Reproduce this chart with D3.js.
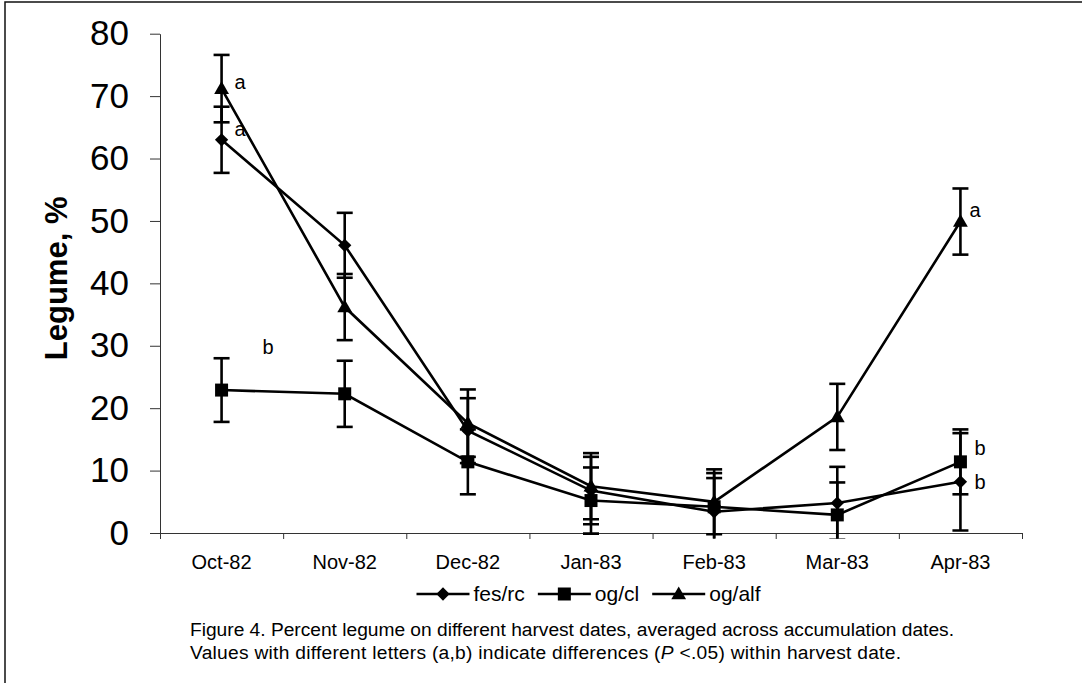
<!DOCTYPE html>
<html>
<head>
<meta charset="utf-8">
<script src="https://cdn.jsdelivr.net/npm/d3@7"></script>
<style>
  html, body { margin: 0; padding: 0; background: #fff; }
  svg { display: block; font-family: Arial, "Liberation Sans", sans-serif; }
</style>
</head>
<body>
<svg id="chart" width="1082" height="683"></svg>
<script>
// ---------- data ----------
const categories = ["Oct-82", "Nov-82", "Dec-82", "Jan-83", "Feb-83", "Mar-83", "Apr-83"];
const seriesNames = ["fes/rc", "og/cl", "og/alf"];
const fesRc  = [63.0, 46.1, 16.4, 6.8, 3.4, 4.8, 8.2];
const ogCl   = [22.9, 22.3, 11.4, 5.2, 4.2, 2.9, 11.4];
const ogAlf  = [71.2, 36.2, 17.6, 7.5, 5.0, 18.6, 49.9];
const fesRcErr = [5.3, 5.2, 5.2, 5.4, 5.4, 5.8, 7.8];
const ogClErr  = [5.1, 5.3, 5.2, 5.3, 5.4, 5.2, 5.2];
const ogAlfErr = [5.4, 5.3, 5.4, 5.3, 5.2, 5.3, 5.3];
const yTicks = [0, 10, 20, 30, 40, 50, 60, 70, 80];
const sigCategory = ["Oct-82", "Oct-82", "Oct-82", "Apr-83", "Apr-83", "Apr-83"];
const sigSeries   = ["og/alf", "fes/rc", "og/cl", "og/alf", "og/cl", "fes/rc"];
const sigLetters  = ["a", "a", "b", "a", "b", "b"];
const yTitle = "Legume, %";
const captionLine1 = "Figure 4. Percent legume on different harvest dates, averaged across accumulation dates.";
const captionLine2a = "Values with different letters (a,b) indicate differences (";
const captionLine2P = "P";
const captionLine2b = " <.05) within harvest date.";

// ---------- layout ----------
const svg = d3.select("#chart");
const plot = { left: 160, right: 1022, top: 33.7, bottom: 533 };
// label offsets in px relative to their point (layout, not data)
const labelOffsets = [[13, -7], [13, -11], [41, -43], [9, -12], [14, -14], [14, 0]];

const values = { "fes/rc": fesRc, "og/cl": ogCl, "og/alf": ogAlf };
const errors = { "fes/rc": fesRcErr, "og/cl": ogClErr, "og/alf": ogAlfErr };
const symbols = { "fes/rc": "diamond", "og/cl": "square", "og/alf": "triangle" };

const x = d3.scaleBand().domain(categories).range([plot.left, plot.right]).padding(0);
const xEdge = d3.scaleLinear().domain([0, categories.length]).range([plot.left, plot.right]);
const y = d3.scaleLinear().domain([0, 80]).range([plot.bottom, plot.top]);
const cx = c => x(c) + x.bandwidth() / 2;

// outer frame
svg.append("rect")
  .attr("x", 5).attr("y", 2).attr("width", 1200).attr("height", 800)
  .attr("fill", "none").attr("stroke", "#111").attr("stroke-width", 1.5);

// y axis
const yAxis = svg.append("g").attr("transform", `translate(${plot.left},0)`)
  .call(d3.axisLeft(y).tickValues(yTicks).tickSize(10).tickSizeOuter(0).tickPadding(21));
yAxis.select(".domain").attr("stroke", "#333").attr("stroke-width", 1);
yAxis.selectAll(".tick line").attr("stroke", "#333").attr("stroke-width", 1);
yAxis.selectAll(".tick text").attr("font-size", 35).attr("fill", "#000")
  .attr("font-family", "Arial, 'Liberation Sans', sans-serif");

// x axis: boundary ticks
const xAxisEdges = svg.append("g").attr("transform", `translate(0,${plot.bottom})`)
  .call(d3.axisBottom(xEdge).tickValues(d3.range(categories.length + 1)).tickFormat("").tickSize(6).tickSizeOuter(0));
xAxisEdges.select(".domain").attr("stroke", "#333").attr("stroke-width", 1);
xAxisEdges.selectAll(".tick line").attr("stroke", "#333").attr("stroke-width", 1);
// x axis labels
const xAxisLabels = svg.append("g").attr("transform", `translate(0,${plot.bottom})`)
  .call(d3.axisBottom(x).tickSize(0).tickPadding(22));
xAxisLabels.select(".domain").remove();
xAxisLabels.selectAll(".tick text").attr("font-size", 20).attr("fill", "#000")
  .attr("font-family", "Arial, 'Liberation Sans', sans-serif");

// y title
svg.append("text")
  .attr("transform", `translate(67,${(plot.top + plot.bottom) / 2 - 5}) rotate(-90)`)
  .attr("text-anchor", "middle")
  .attr("font-size", 31).attr("font-weight", "bold")
  .text(yTitle);

// clip for error bars (slightly below axis)
svg.append("clipPath").attr("id", "errclip")
  .append("rect").attr("x", 0).attr("y", 0).attr("width", 1082).attr("height", y(-0.9));

function symbolPath(kind) {
  if (kind === "square") return d3.symbol(d3.symbolSquare, 169)();
  if (kind === "diamond") return d3.symbol(d3.symbolSquare, 88)();
  return d3.symbol(d3.symbolTriangle, 95)();
}
function symbolTransform(kind, px, py) {
  if (kind === "diamond") return `translate(${px},${py}) rotate(45)`;
  if (kind === "triangle") return `translate(${px},${py + 1})`;
  return `translate(${px},${py})`;
}

const line = d3.line().x(d => cx(d.c)).y(d => y(d.v));

seriesNames.forEach(name => {
  const pts = categories.map((c, i) => ({ c, v: values[name][i], e: errors[name][i] }));
  const g = svg.append("g");
  // error bars
  const eb = g.append("g").attr("clip-path", "url(#errclip)");
  pts.forEach(p => {
    const px = cx(p.c);
    eb.append("line").attr("x1", px).attr("x2", px)
      .attr("y1", y(p.v + p.e)).attr("y2", y(p.v - p.e))
      .attr("stroke", "#000").attr("stroke-width", 2.6);
    [p.v + p.e, p.v - p.e].forEach(v => {
      eb.append("line").attr("x1", px - 8).attr("x2", px + 8)
        .attr("y1", y(v)).attr("y2", y(v))
        .attr("stroke", "#000").attr("stroke-width", 2.6);
    });
  });
  // line
  g.append("path").datum(pts).attr("d", line)
    .attr("fill", "none").attr("stroke", "#000").attr("stroke-width", 2.6);
  // markers
  g.selectAll("path.m").data(pts).enter().append("path").attr("class", "m")
    .attr("d", symbolPath(symbols[name]))
    .attr("transform", d => symbolTransform(symbols[name], cx(d.c), y(d.v)))
    .attr("fill", "#000");
});

// significance letters
sigLetters.forEach((l, i) => {
  const ci = categories.indexOf(sigCategory[i]);
  const v = values[sigSeries[i]][ci];
  svg.append("text")
    .attr("x", cx(sigCategory[i]) + labelOffsets[i][0])
    .attr("y", y(v) + labelOffsets[i][1])
    .attr("dy", "0.35em")
    .attr("font-size", 20).attr("fill", "#000")
    .text(l);
});

// legend
const legend = svg.append("g").attr("transform", "translate(416.5,594)");
let lx = 0;
seriesNames.forEach(name => {
  const item = legend.append("g").attr("transform", `translate(${lx},0)`);
  item.append("line").attr("x1", 0).attr("x2", 53).attr("y1", 0).attr("y2", 0)
    .attr("stroke", "#000").attr("stroke-width", 2.6);
  item.append("path").attr("d", symbolPath(symbols[name]))
    .attr("transform", symbolTransform(symbols[name], 26.5, 0)).attr("fill", "#000");
  const t = item.append("text").attr("x", 57).attr("y", 0).attr("dy", "0.35em")
    .attr("font-size", 21).attr("fill", "#000").text(name);
  lx += 57 + t.node().getComputedTextLength() + 13;
});

// caption
svg.append("text").attr("x", 190).attr("y", 636).attr("font-size", 19.2).attr("fill", "#000")
  .attr("textLength", 764).attr("lengthAdjust", "spacing")
  .text(captionLine1);
const c2 = svg.append("text").attr("x", 190).attr("y", 659).attr("font-size", 19.2).attr("fill", "#000")
  .attr("textLength", 711).attr("lengthAdjust", "spacing");
c2.append("tspan").text(captionLine2a);
c2.append("tspan").attr("font-style", "italic").text(captionLine2P);
c2.append("tspan").text(captionLine2b);
</script>
</body>
</html>
